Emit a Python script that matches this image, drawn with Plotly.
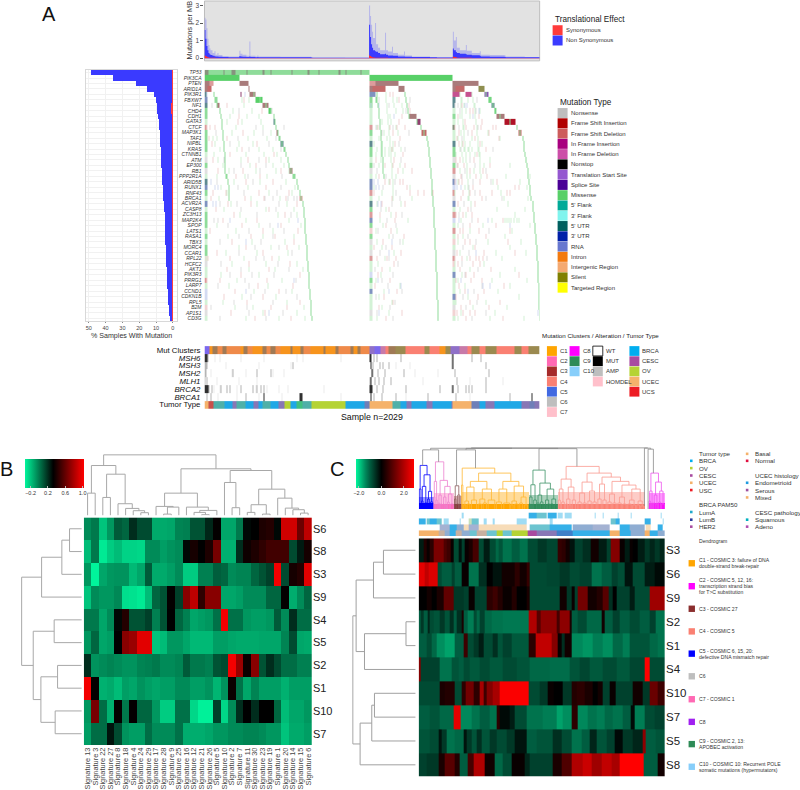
import plotly.graph_objects as go

W, H = 800, 790
FONT = "Liberation Sans"

# ---------- panel A data ----------
GENES = ["TP53", "PIK3CA", "PTEN", "ARID1A", "PIK3R1", "FBXW7", "NF1", "CHD4", "CDH1", "GATA3",
         "CTCF", "MAP3K1", "TAF1", "NIPBL", "KRAS", "CTNNB1", "ATM", "EP300", "RB1", "PPP2R1A",
         "ARID5B", "RUNX1", "RNF43", "BRCA1", "ACVR2A", "CASP8", "ZC3H13", "MAP2K4", "SPOP", "LATS1",
         "RASA1", "TBX3", "MORC4", "CCAR1", "RPL22", "HCFC2", "AKT1", "PIK3R3", "PRRG1", "LARP7",
         "CCND1", "CDKN1B", "RPL5", "B2M", "AP1S1", "CD3G"]
PCT_NONSYN = [48.3, 35.2, 21.8, 14.8, 11.1, 9.5, 8.3, 8.0, 8.1, 7.9, 7.6, 7.4, 7.1, 6.9, 6.8, 6.7, 6.5, 6.4, 6.2, 6.0,
              5.7, 5.5, 5.3, 5.1, 4.9, 4.7, 4.5, 4.4, 4.3, 4.2, 4.1, 4.0, 3.9, 3.7, 3.6, 3.5, 3.3, 3.2, 3.1, 2.9,
              2.7, 2.5, 2.3, 2.1, 1.8, 1.3]
PCT_SYN = [0.5, 0.3, 0.2, 0.2, 0.2, 0.2, 1.2, 1.0, 0.4, 0.3, 0.3, 0.3, 0.3, 0.3, 0.3, 0.3, 0.3, 0.3, 0.3, 0.3,
           0.3, 0.3, 0.3, 0.4, 0.5, 0.3, 0.3, 0.2, 0.2, 0.3, 0.3, 0.3, 0.3, 0.3, 0.3, 0.3, 0.2, 0.2, 0.2, 0.3,
           0.3, 0.2, 0.2, 0.2, 0.2, 0.2]

MB_POS = [204, 205, 206, 207, 208, 209, 210, 212, 214, 215, 217, 218, 222, 228, 239, 240, 242, 246, 249, 250, 255, 257, 258, 280,
          311, 312, 345, 369, 370, 371, 372, 373, 375, 376, 378, 380, 385, 386, 388, 392, 393, 398, 404, 405, 412, 430, 437,
          453, 454, 456, 457, 460, 466, 467, 472, 480, 481, 490, 505, 506, 525, 540]
MB_PEAK = [2.3, 2.2, 1.7, 1.1, 0.75, 0.55, 0.45, 0.3, 0.4, 0.2, 0.3, 0.18, 0.12, 0.1, 0.42, 0.25, 0.2, 0.14, 0.95, 0.14, 0.1, 0.16, 0.09, 0.08,
           0.06, 0.04, 0.03, 3.0, 2.4, 1.9, 1.5, 1.15, 2.0, 0.8, 0.6, 0.45, 1.45, 0.45, 0.38, 0.65, 0.3, 0.2, 0.38, 0.16, 0.1, 0.07, 0.05,
           1.5, 1.0, 1.2, 0.6, 0.45, 0.75, 0.42, 0.3, 0.4, 0.2, 0.18, 0.15, 0.1, 0.07, 0.05]
MB_SOLID = [1.6, 1.1, 0.7, 0.45, 0.3, 0.22, 0.18, 0.14, 0.11, 0.1, 0.09, 0.08, 0.07, 0.06, 0.12, 0.1, 0.08, 0.07, 0.1, 0.07, 0.06, 0.07, 0.06, 0.05,
            0.04, 0.03, 0.03, 1.9, 1.2, 0.8, 0.6, 0.45, 0.4, 0.36, 0.3, 0.22, 0.25, 0.2, 0.16, 0.16, 0.14, 0.1, 0.09, 0.08, 0.07, 0.05, 0.04,
            0.55, 0.45, 0.35, 0.3, 0.25, 0.22, 0.2, 0.17, 0.14, 0.1, 0.08, 0.07, 0.06, 0.05, 0.04]
MB_SYN = [0.15, 0.12, 0.08, 0.05, 0.04, 0.03, 0.02, 0.02, 0.02, 0.01, 0.01, 0.01, 0.01, 0.01, 0.01, 0.01, 0.01, 0.01, 0.01, 0.01, 0.01, 0.01, 0.01, 0.01,
          0.01, 0.01, 0.01, 0.16, 0.12, 0.08, 0.05, 0.04, 0.03, 0.03, 0.02, 0.02, 0.02, 0.02, 0.01, 0.01, 0.01, 0.01, 0.01, 0.01, 0.01, 0.01, 0.01,
          0.1, 0.07, 0.05, 0.03, 0.02, 0.02, 0.02, 0.01, 0.01, 0.01, 0.01, 0.01, 0.01, 0.01, 0.01]

ONCO_COLORS = ["#ffffff", "#58d068", "#86937e", "#a97b7b", "#c46a6a", "#b01226", "#c6528f", "#8a58b0", "#8f8f50",
               "#d3f2d6", "#f2d3d3", "#e0e0e0", "#d3dbf2", "#efcfe2", "#8fdc9a", "#5f8a90", "#7f93c0", "#dc9c9c", "#904070"]
MISS, MOTTLE, BROWN, RUST, DKRED, PINK, PURP, OLIVE = 1, 2, 3, 4, 5, 6, 7, 8
P_GREEN, P_RED, P_GRAY, P_BLUE, P_PINK, M_GREEN, TEAL, M_BLUE, M_RED, D_PINK = 9, 10, 11, 12, 13, 14, 15, 16, 17, 18

# solid blocks of the waterfall: gene, first column, last column, mutation class
BLOCKS = [
    ("TP53", 204, 369, M_GREEN), ("PIK3CA", 204, 239, MISS), ("PIK3CA", 369, 453, MISS),
    ("PTEN", 204, 209, BROWN), ("PTEN", 209, 213.3, M_RED), ("PTEN", 239, 248, BROWN),
    ("PTEN", 369, 375, M_RED), ("PTEN", 375, 384, BROWN), ("PTEN", 384, 398, BROWN),
    ("PTEN", 453, 465, BROWN), ("PTEN", 465, 479, BROWN),
    ("ARID1A", 204, 207, BROWN), ("ARID1A", 207, 211, RUST), ("ARID1A", 248, 249.3, BROWN),
    ("ARID1A", 369, 372, BROWN), ("ARID1A", 372, 385, RUST), ("ARID1A", 398, 404, BROWN),
    ("ARID1A", 453, 456, BROWN), ("ARID1A", 456, 465, RUST), ("ARID1A", 479, 485, OLIVE),
    ("PIK3R1", 204, 206, TEAL), ("PIK3R1", 240.5, 241.5, D_PINK), ("PIK3R1", 249.3, 255, BROWN),
    ("PIK3R1", 369, 375, M_BLUE), ("PIK3R1", 453, 460, PINK), ("PIK3R1", 466, 471.5, PINK),
    ("PIK3R1", 485, 488.5, PURP),
    ("FBXW7", 215, 217.3, M_GREEN), ("FBXW7", 255, 262, MISS), ("FBXW7", 375, 377, M_GREEN), ("FBXW7", 488.5, 492, MISS),
    ("NF1", 217.3, 219.3, BROWN), ("NF1", 262, 268, BROWN), ("NF1", 492, 494.5, TEAL),
    ("CHD4", 268, 272, MISS), ("CHD4", 494.5, 497, MISS),
    ("CDH1", 408.7, 417, BROWN), ("CDH1", 497, 505, BROWN),
    ("GATA3", 417, 420.3, D_PINK), ("GATA3", 505, 516, DKRED),
    ("MAP3K1", 276.5, 278.5, BROWN), ("MAP3K1", 422, 427, RUST), ("MAP3K1", 518.5, 522, RUST),
    ("PPP2R1A", 224.7, 227.3, M_GREEN), ("PPP2R1A", 292.3, 295.7, M_GREEN), ("RB1", 289.7, 292.3, BROWN),
    ("NIPBL", 280.5, 283, TEAL), ("BRCA1", 299.5, 302.3, M_RED),
    ("GATA3", 273.5, 275, TEAL), ("TAF1", 278.5, 280.5, M_GREEN), ("KRAS", 283, 285, M_GREEN),
]
# darker flecks along the TP53 row
TP53_FLECKS = [204, 205, 206, 207, 223, 231, 232, 233, 234, 246, 262, 263, 270, 291, 307, 308, 318, 338, 339, 345, 360]

# start column of each gene (from PIK3R1 down) on the staircases of the waterfall
STAIR_1A = [213.5, 214.5, 216.5, 219.3, 220, 220.6, 221.2, 221.8, 222.4, 222.9, 223.3, 223.6, 223.9, 224.1, 224.4,
            224.6, 227.3, 227.7, 228.1, 228.5]
STAIR_1B = [253, 259, 265, 270, 273, 274.5, 275.5, 277.5, 279, 281, 284, 285.5, 287, 288.5, 290, 293, 296, 297.5, 299, 300,
            302.7, 303.1, 303.5, 303.9, 304.3, 304.7, 305.1, 305.5, 305.9, 306.3, 306.7, 307.1, 307.5, 307.9, 308.3, 308.7, 309.1, 309.5, 309.9, 310.3, 310.7, 311.3]
STAIR_2A = [404.5, 405.5, 406.5, 407.5, 408.7, 417, 420.5, 424, 427, 427.7, 428.3, 429, 429.5, 430, 430.4, 430.8, 431.2, 431.6, 432, 432.5,
            432.9, 433.2, 433.5, 433.8, 434, 434.3, 434.5, 434.8, 435, 435.2, 435.5, 435.7, 436, 436.2, 436.4, 436.6, 436.8, 437, 437.2, 437.4, 437.6, 437.8]
STAIR_2B = [385, 385.5, 386, 386.6, 387, 387.5, 388, 388.7, 389.2, 389.6, 390, 390.4, 390.8, 391.1, 391.4, 391.7, 392, 392.3, 392.6, 392.9]
STAIR_2C = [376, 376.7, 377.3, 378, 378.5, 379, 379.5, 380, 380.5, 381, 381.4, 381.8, 382.1, 382.4, 382.7, 383]
STAIR_3A = [486, 490, 493, 495.5, 500, 510, 517, 520, 522.5, 523.3, 524, 525, 526, 526.7, 527.4, 528, 528.7, 529.5, 530, 531,
            532.5, 533, 533.5, 534, 534.5, 535, 535.5, 536, 536.4, 536.8, 537.1, 537.4, 537.7, 538, 538.2, 538.4, 538.6, 538.8, 539, 539.3, 539.5, 539.8]
STAIR_3B = [460, 460.5, 461, 461.6, 462, 462.5, 463, 463.6, 464, 464.5, 465, 465.4, 465.8, 466.2, 466.6, 467, 467.4, 467.8, 468.2, 468.6]
STAIR_3C = [472, 473, 473.8, 474.4, 475, 475.6, 476.2, 476.8, 477.3, 477.8, 478.3, 478.8, 479.2, 479.6, 480, 480.4]

# colour of the most mutated columns at the start of each group, gene by gene
LEAD_1 = [MOTTLE, MISS, BROWN, BROWN, P_BLUE, M_BLUE, TEAL, M_GREEN, M_GREEN, P_GREEN, M_RED, M_GREEN, M_GREEN, M_GREEN, M_GREEN, P_GREEN,
          P_GRAY, M_GREEN, P_GRAY, P_GREEN, TEAL, M_BLUE, M_GREEN, P_GREEN, M_BLUE, P_GREEN, M_GREEN, M_GREEN, M_GREEN, P_GREEN,
          M_GREEN, P_GREEN, M_GREEN, M_GREEN, P_GREEN, P_GRAY, P_GREEN, P_GREEN, M_RED, P_GREEN, P_BLUE, P_BLUE, P_GREEN, P_RED, P_GRAY, P_GREEN]
LEAD_2 = [0, MISS, BROWN, BROWN, TEAL, M_GREEN, M_GREEN, P_GREEN, P_GREEN, P_GREEN, M_RED, M_GREEN, P_GREEN, TEAL, M_GREEN, M_GREEN,
          P_GREEN, M_GREEN, P_GRAY, P_GREEN, M_BLUE, M_BLUE, M_RED, P_GREEN, TEAL, M_GREEN, M_RED, M_BLUE, M_GREEN, P_RED,
          M_GREEN, P_GRAY, P_GREEN, P_GRAY, M_RED, P_GREEN, P_GREEN, P_BLUE, M_GREEN, P_GREEN, M_BLUE, P_GREEN, P_GREEN, P_GREEN, P_GRAY, P_GREEN]
LEAD_3 = [0, 0, BROWN, BROWN, PINK, TEAL, TEAL, P_GREEN, M_GREEN, P_GREEN, MOTTLE, P_GREEN, P_GREEN, TEAL, M_GREEN, M_GREEN,
          P_GRAY, M_GREEN, M_RED, P_GRAY, M_BLUE, P_BLUE, M_RED, P_GRAY, M_BLUE, P_GREEN, M_RED, P_BLUE, P_GREEN, M_RED,
          P_GREEN, P_RED, P_GREEN, P_GRAY, M_RED, P_RED, P_GREEN, M_BLUE, P_GREEN, P_GREEN, P_GREEN, M_BLUE, P_GREEN, P_GRAY, P_RED, P_GREEN]

# single pale ticks scattered over the matrix
TICKS_GREEN = {
    "FBXW7": [241, 248, 392, 396, 462, 468], "NF1": [243, 393, 401, 464, 475], "CHD4": [232, 251, 395, 402, 466, 480],
    "CDH1": [229, 246, 258, 378, 389, 460, 470], "GATA3": [226, 241, 260, 381, 390, 458, 476], "CTCF": [235, 262, 376, 395, 464],
    "MAP3K1": [231, 253, 270, 383, 397, 461, 488], "TAF1": [212, 216, 247, 266, 378, 386, 458, 472, 500],
    "NIPBL": [214, 238, 252, 373, 380, 392, 462, 470, 482], "KRAS": [219, 236, 258, 272, 376, 380, 384, 388, 392, 400, 460, 464, 468, 469, 472, 478],
    "CTNNB1": [213, 245, 263, 276, 375, 380, 384, 388, 394, 456, 462, 466, 470, 475, 480], "ATM": [217, 240, 268, 280, 380, 390, 463, 490],
    "EP300": [222, 249, 272, 283, 378, 399, 467, 484, 510], "RB1": [228, 255, 275, 288, 382, 402, 460, 474],
    "PPP2R1A": [216, 244, 266, 375, 395, 470, 506, 530], "ARID5B": [233, 259, 285, 388, 458, 493, 520],
    "RUNX1": [220, 247, 294, 373, 410, 465, 498, 527], "RNF43": [226, 268, 291, 381, 455, 501], "BRCA1": [218, 250, 279, 378, 412, 468, 504, 528],
    "ACVR2A": [230, 256, 286, 376, 400, 471, 508], "CASP8": [223, 265, 293, 385, 460, 497, 525], "ZC3H13": [239, 277, 296, 390, 466, 515],
    "MAP2K4": [245, 288, 379, 408, 461, 492, 505, 507, 509, 511, 514, 517, 519], "SPOP": [216, 258, 300, 382, 458, 483, 530],
    "LATS1": [235, 272, 375, 396, 470, 512], "RASA1": [227, 262, 293, 388, 463, 505], "TBX3": [251, 284, 376, 402, 458, 488, 521],
    "MORC4": [238, 270, 298, 381, 473, 510], "CCAR1": [225, 256, 287, 393, 460, 496, 526], "RPL22": [243, 278, 384, 467, 502],
    "HCFC2": [231, 265, 296, 377, 455, 484], "AKT1": [248, 274, 302, 389, 470, 515], "PIK3R3": [220, 258, 380, 462, 500], "PRRG1": [236, 281, 375, 458, 492, 527],
    "LARP7": [228, 267, 399, 465, 510], "CCND1": [253, 291, 383, 460, 498], "CDKN1B": [241, 275, 378, 468, 519], "RPL5": [222, 286, 391, 456, 486],
    "B2M": [234, 252, 303, 381, 473, 507], "AP1S1": [262, 296, 388, 461, 495], "CD3G": [245, 278, 304, 376, 458, 490, 524],
}
TICKS_RED = {
    "PIK3R1": [389, 392], "FBXW7": [243, 398], "NF1": [226, 409, 462], "CHD4": [261, 410, 470, 473], "CDH1": [238, 401, 458, 479],
    "GATA3": [237, 398, 465, 482], "CTCF": [206, 209, 214, 377, 379, 389, 396, 404, 455, 463, 466, 474, 481, 493, 496],
    "MAP3K1": [242, 392, 459, 472, 489], "TAF1": [208, 226, 378, 399, 457, 475, 499], "NIPBL": [211, 256, 394, 406, 459, 463, 480],
    "KRAS": [241, 391, 486], "CTNNB1": [229, 273, 402, 477], "ATM": [212, 247, 265, 375, 393, 456, 460, 466, 474],
    "EP300": [224, 255, 384, 392, 404, 458, 464, 490], "RB1": [217, 242, 280, 397, 412, 470, 483], "PPP2R1A": [235, 259, 378, 395, 461, 476, 487],
    "ARID5B": [245, 272, 384, 389, 399, 402, 455, 459, 462, 480, 497], "RUNX1": [228, 265, 407, 473, 515, 519], "RNF43": [212, 225, 258, 288, 373, 381, 410, 418, 424, 433, 455, 463, 470, 480, 492, 507, 510],
    "BRCA1": [210, 244, 263, 285, 391, 461, 482], "ACVR2A": [227, 250, 296, 381, 404, 458, 475], "CASP8": [215, 268, 388, 468], "ZC3H13": [233, 284, 379, 395, 456, 463, 472],
    "MAP2K4": [222, 256, 394, 478, 503], "SPOP": [241, 280, 385, 470, 496], "LATS1": [209, 262, 297, 375, 390, 460, 463, 479, 510],
    "RASA1": [250, 274, 403, 458, 486], "TBX3": [231, 293, 382, 465, 470, 508], "MORC4": [245, 286, 373, 391, 475], "CCAR1": [216, 262, 400, 457, 484, 515],
    "RPL22": [205, 207, 229, 271, 376, 386, 395, 455, 462, 470, 476, 479, 483], "HCFC2": [248, 289, 393, 458, 473, 480], "AKT1": [226, 268, 381, 460, 491],
    "PIK3R3": [240, 299, 377, 466, 474, 519], "PRRG1": [206, 219, 266, 389, 456, 471, 482], "LARP7": [257, 292, 374, 459, 504], "CCND1": [234, 278, 396, 465, 484],
    "CDKN1B": [223, 262, 383, 456, 478], "RPL5": [246, 299, 392, 470, 500], "B2M": [270, 286, 378, 461, 489], "AP1S1": [230, 264, 401, 457, 463, 470, 475], "CD3G": [254, 290, 385, 466, 503],
}
TICKS_GRAY = {
    "FBXW7": [378, 410, 477], "NF1": [211, 378, 388, 455, 458], "CHD4": [238, 271, 405, 460, 476], "CTCF": [255, 283, 375, 392, 459, 478],
    "MAP3K1": [215, 262, 381, 409, 468], "TAF1": [237, 275, 389, 462], "NIPBL": [229, 268, 398, 480], "KRAS": [248, 280, 404, 461, 493],
    "ATM": [223, 258, 400, 470], "EP300": [240, 265, 373, 457, 475], "RB1": [233, 259, 376, 465, 486], "PPP2R1A": [247, 281, 385, 462],
    "ARID5B": [216, 252, 394, 473, 491], "RUNX1": [237, 280, 382, 469], "RNF43": [243, 276, 395, 475], "BRCA1": [264, 272, 287, 293, 296, 399, 486, 502],
    "ACVR2A": [219, 236, 278, 391, 464], "CASP8": [240, 275, 380, 471], "ZC3H13": [256, 290, 401, 459], "MAP2K4": [213, 217, 229, 386, 472], "SPOP": [227, 269, 395, 463],
    "LATS1": [248, 283, 377, 489], "RASA1": [238, 272, 392, 468], "TBX3": [219, 260, 399, 476], "MORC4": [254, 278, 385, 463], "CCAR1": [238, 291, 379, 469],
    "RPL22": [255, 263, 388, 487], "HCFC2": [220, 277, 397, 462], "AKT1": [240, 288, 374, 478], "PIK3R3": [229, 251, 273, 392, 465], "PRRG1": [244, 295, 381, 471], "LARP7": [217, 248, 387, 482],
    "CCND1": [264, 285, 401, 474], "CDKN1B": [250, 296, 375, 463], "RPL5": [233, 272, 394, 477], "B2M": [210, 246, 389, 466], "AP1S1": [248, 282, 376, 486], "CD3G": [219, 265, 392, 472],
}
TICKS_BLUE = {
    "PIK3R1": [244], "NF1": [370, 378, 465, 467], "CHD4": [378, 479], "CDH1": [393, 473], "RUNX1": [214, 217, 375, 378, 457, 461], "ACVR2A": [212, 215, 377, 380, 458],
    "ARID5B": [210, 373, 377, 456, 458], "MAP2K4": [229, 297, 459, 488, 492], "CCAR1": [388, 476], "PRRG1": [293, 377, 461], "LARP7": [400, 483, 490], "AP1S1": [268, 378, 538], "CCND1": [245, 388, 468],
    "SPOP": [277, 382, 510], "TBX3": [245, 391, 470],
}

# annotation strips under the matrix
STRIP_NAMES = ["Mut Clusters", "<i>MSH6</i>", "<i>MSH3</i>", "<i>MSH2</i>", "<i>MLH1</i>", "<i>BRCA2</i>", "<i>BRCA1</i>", "Tumor Type"]
STRIP_COLORS = ["#ffffff", "#7b68ee", "#f7941d", "#a07a55", "#ef8a4a", "#fa8072", "#9b8a50", "#8f70c8", "#c87aa8",
                "#ececec", "#b4b4b4", "#303030", "#f5b26b", "#c8504a", "#4fb0a8", "#1fa8e6", "#8877b5", "#b5d334", "#40c080", "#6f7fb8"]
MUT_SEGMENTS = [(204, 209, 1), (209, 212, 2), (212, 217, 3), (217, 222, 4), (222, 226, 3), (226, 240, 4), (240, 243, 2), (243, 247, 3),
                (247, 252, 4), (252, 262, 2), (262, 266, 3), (266, 270, 4), (270, 275, 3), (275, 280, 4), (280, 290, 2), (290, 292, 3),
                (292, 300, 2), (300, 303, 3), (303, 310, 4), (310, 323, 2), (323, 325, 3), (325, 335, 2), (335, 338, 3), (338, 350, 4),
                (350, 353, 3), (353, 357, 2), (357, 360, 3), (360, 369, 4), (369, 374, 7), (374, 380, 1), (380, 385, 8), (385, 388, 5),
                (388, 395, 3), (395, 405, 6), (405, 412, 5), (412, 425, 5), (425, 430, 6), (430, 440, 5), (440, 446, 2), (446, 451, 6),
                (451, 460, 7), (460, 468, 8), (468, 472, 5), (472, 480, 6), (480, 486, 5), (486, 497, 6), (497, 515, 5), (515, 522, 6), (522, 529, 5), (529, 540, 6)]
TUMOR_SEGMENTS = [(204, 208, 12), (208, 213, 13), (213, 224, 14), (224, 232, 15), (232, 236, 16), (236, 245, 14), (245, 253, 15), (253, 258, 16),
                  (258, 262, 15), (262, 270, 14), (270, 278, 15), (278, 284, 16), (284, 290, 17), (290, 296, 15), (296, 302, 18), (302, 311, 14),
                  (311, 345, 17), (345, 364, 15), (364, 369, 19), (369, 392, 12), (392, 400, 14), (400, 406, 15), (406, 412, 16), (412, 427, 15),
                  (427, 433, 16), (433, 452, 15), (452, 453, 16), (453, 472, 12), (472, 480, 19), (480, 486, 15), (486, 495, 16), (495, 522, 15), (522, 530, 16), (530, 535, 19), (535, 540, 16)]
# gene-level alterations: light, mid and black ticks
ALT_LIGHT = {"MSH6": [214, 219, 240, 263, 296, 302, 340], "MSH3": [225, 258, 290, 395, 410], "MSH2": [210, 231, 245, 272, 283, 415, 438],
             "MLH1": [216, 238, 256, 390, 423, 470, 503], "BRCA2": [213, 219, 236, 255, 266, 278, 287, 323], "BRCA1": [217, 236, 258, 281, 340, 405, 470]}
ALT_MID = {"MSH6": [204, 205, 206, 207, 373, 376, 400, 452, 472, 481], "MSH3": [204, 205, 206, 292, 372, 379, 382, 388, 452, 486], "MSH2": [204, 205, 232, 256, 270, 372, 377, 384, 403, 455, 489],
           "MLH1": [204, 206, 369, 374, 378, 383, 390, 457, 486], "BRCA2": [208, 211, 220, 226, 229, 240, 252, 256, 260, 263, 376, 382, 405, 440, 452, 458, 466, 469, 472, 486],
           "BRCA1": [206, 210, 245, 263, 373, 381, 395, 428, 456, 510]}
ALT_BLACK = {"MSH6": [204, 205, 206, 369, 370, 453], "MSH3": [370, 453], "MSH2": [371], "MLH1": [370], "BRCA2": [204, 205, 206, 207, 369, 370, 371, 453], "BRCA1": [263, 299, 300, 301, 370, 532]}

# ---------- panel B data ----------
SIGNATURES = ["Signature 13", "Signature 3", "Signature 22", "Signature 27", "Signature 8", "Signature 18", "Signature 4", "Signature 24",
              "Signature 29", "Signature 17", "Signature 28", "Signature 9", "Signature 25", "Signature 16", "Signature 12", "Signature 21",
              "Signature 26", "Signature 5", "Signature 10", "Signature 2", "Signature 7", "Signature 11", "Signature 30", "Signature 23",
              "Signature 19", "Signature 1", "Signature 20", "Signature 14", "Signature 15", "Signature 6"]
ROWS_B = ["S6", "S8", "S3", "S9", "S4", "S5", "S2", "S1", "S10", "S7"]
S6_B = [-.05, .0, -.2, -.08, .08, .05, .2, .12, .12, -.13, -.13, -.12, -.03, -.02, .1, .1, .22, .33, -.12, -.12, -.0, .3, .32, .4, .42, .3, .9, .9, .62, .85]
S8_B = [-.18, .0, -.3, -.22, -.18, -.24, -.24, -.25, -.05, -.05, -.1, -.07, -.05, .3, .38, .32, .4, .65, -.15, -.15, .2, .36, .4, .45, .5, .5, .5, .12, .25, .38]
S3_B = [-.08, -.33, -.12, -.08, -.07, -.07, -.17, -.12, .08, -.13, -.13, -.1, -.05, -.22, -.22, -.02, -.02, .07, .05, -.05, -.03, -.03, .05, .1, .15, 1.0, .12, .38, .42, .95]
S9_B = [-.2, -.05, -.08, -.08, -.04, -.27, -.28, -.3, -.18, .05, .1, .33, .15, .7, .85, .45, .7, .7, -.12, -.12, -.1, -.05, -.05, -.05, .05, .05, .33, -.14, -.05, .05]
S4_B = [.0, .0, -.12, -.05, .3, .42, .1, .1, .15, -.02, .1, .32, .05, -.02, -.12, -.1, -.08, .02, 1.0, .02, .02, -.08, -.1, -.1, -.08, .08, -.05, .2, .03, .03]
S5_B = [-.08, .05, -.12, -.1, .32, .7, .75, .95, .95, -.2, -.18, -.08, -.08, -.12, -.17, -.17, -.17, -.1, -.1, -.12, -.13, -.13, -.13, -.12, -.12, -.12, -.03, .12, -.12, -.13]
S2_B = [.2, -.07, -.05, -.03, -.05, -.07, -.07, -.03, -.02, .0, -.05, -.05, -.03, .08, .0, .0, -.02, .1, .12, 1.0, .75, .35, .7, .1, .2, .12, .03, .03, -.02, -.02]
S1_B = [1.0, .33, -.15, -.13, -.18, -.1, -.12, -.07, -.1, -.12, -.1, -.1, -.05, -.05, -.1, -.1, -.07, -.16, -.07, .35, .02, -.12, -.03, -.1, -.1, -.1, -.15, -.1, -.1, -.1]
S10_B = [-.08, .65, .03, -.15, .33, .0, .33, .05, .05, -.08, -.22, -.22, .02, .02, -.25, -.32, -.32, .15, -.25, -.05, .2, .32, .2, .32, .32, .05, -.18, -.12, -.12, -.08]
S7_B = [-.1, .03, .03, .27, .12, -.07, -.1, -.1, .03, -.05, -.05, -.05, .02, -.14, -.14, -.14, -.12, -.08, -.08, -.05, -.05, -.03, -.03, -.05, -.08, -.08, -.2, -.13, -.13, -.1]

# dendrograms: (height, left, right); a bare number is a leaf position, a pair is (position, height)
DEND_B_TOP = (60.7,
              (50, (22.3, 0, 1), (41.3, (18, 2, 3), (11.7, 4, (7, 5, (4.7, 6, (2.7, 7, 8)))))),
              (46.7,
               (22.3, (9, 9, (8.3, (1.3, 10, 11), 12)), (8.3, 13, (5, (3, 14, (0.7, 15, 16)), 17))),
               (45, (33, 18, (7.7, 19, 20)),
                (26.3, (10.7, (3, 21, 22), (1.3, 23, 24)), (17.3, 25, (7.3, 26, (5.7, 27, (2.3, 28, 29))))))))
DEND_B_LEFT = (60.3, (40.3, (20, (12.3, 0, 1), 2), 3), (48.7, (27.7, 4, 5), (41, (24.3, 6, 7), (26.7, 8, 9))))

# ---------- panel C data ----------
ROWS_C = ["S3", "S6", "S9", "S2", "S1", "S4", "S10", "S7", "S5", "S8"]
# each row: (column where the run ends, value); runs start at column 266
S3_C = [(280, -.3), (290, .4), (300, .1), (312, .5), (340, 1.4), (350, .9), (362, .7), (372, .1), (385, -.8), (395, -.2), (405, -.7), (416, .1), (428, .3), (445, .8),
        (462, -.8), (480, -.3), (497, -.8), (508, -1.1), (520, -.9), (545, -1.2), (570, -1.0), (595, -1.2), (625, -.8), (650, -.6), (683, -.75), (695, .6), (708, .5), (720, .2), (735, -.2),
        (760, -.7), (782, -.5), (808, .2), (830, -.3), (842, -.7), (872, 1.5), (885, .1), (900, -.3), (910, .1), (925, .0), (945, -.3), (960, -.6), (975, -.4), (990, -.6), (1007, -.4)]
S6_C = [(285, 2.6), (296, 2.2), (322, 2.5), (335, -.8), (365, -1.0), (375, -.7), (395, -1.), (415, .1), (445, -1.2), (470, -.5), (490, .0), (515, -.2), (555, .2), (570, .5),
        (590, .2), (600, .6), (650, -.8), (690, -.75), (720, -.6), (750, -.8), (785, -.7), (815, -1.2), (845, -1.0), (865, -.7), (885, -.85), (910, -.2), (945, -.8), (975, -.3), (1007, -.1)]
S9_C = [(290, .0), (305, .2), (320, .0), (340, .3), (372, 1.1), (400, -.6), (415, -.7), (435, .1), (470, -.7), (490, .5), (505, .7), (520, .4), (545, .1), (560, .4), (590, .0), (600, .3),
        (690, -.8), (710, .2), (725, -.6), (735, .1), (745, -.7), (775, 1.3), (800, .2), (818, .4), (838, 1.0), (850, -.5), (862, .0), (900, -.7), (915, -.3), (960, -.8), (1005, 1.8), (1007, -.8)]
S2_C = [(272, -1.0), (280, -.6), (292, -1.0), (298, -.4), (310, -.8), (330, -.9), (345, -.6), (360, -.9), (370, -.5), (380, -1.0), (395, -.5), (400, .3), (412, -1.0), (430, -1.3), (440, -.8), (450, -1.1), (465, -.7), (485, -1.1), (520, -1.2), (597, -1.25), (620, 2.0),
        (632, 1.0), (680, 1.6), (690, .8), (720, 1.6), (725, .3), (745, -1.0), (770, -.8), (815, -1.1), (825, .2), (850, -1.0), (870, -.7), (900, -1.0), (930, -.8), (960, -1.0), (980, -.7), (1007, -1.2)]
S1_C = [(290, -1.0), (305, -.8), (320, -1.1), (345, -1.45), (375, -1.6), (400, -1.0), (412, .7), (430, -.8), (445, -.6), (460, -.3), (490, -.8), (505, -.5), (520, -.9), (545, -.7), (597, -.95), (617, .5), (665, 2.2), (683, 1.5), (695, .1),
        (705, -.5), (725, .2), (760, -1.4), (790, -1.5), (820, -1.3), (850, -1.45), (880, -1.1), (900, -1.3), (960, -.9), (985, -1.1), (1007, -1.2)]
S4_C = [(272, 1.5), (330, -.7), (365, -1.2), (385, -.9), (400, -1.), (420, -.8), (450, -.95), (480, -.8), (520, -.95), (560, -.8), (600, -.9), (660, -1.1), (720, -1.15), (750, -.9), (780, -.75), (820, -.95), (860, -.8), (900, -.95), (945, -.75), (960, 2.9), (1007, -.8)]
S10_C = [(328, -.8), (345, .3), (375, .4), (395, -.8), (408, .5), (432, 1.3), (448, .5), (462, 1.9), (472, .7), (490, 1.5), (510, 1.9), (597, 2.85), (630, -.8), (655, -.6), (672, .1), (685, .0),
         (700, .0), (725, -.6), (742, .4), (765, .5), (790, .3), (805, .0), (818, .2), (840, -.7), (858, .1), (910, -.7), (940, .2), (962, -.6), (985, 1.2), (1007, .7)]
S7_C = [(300, -1.0), (330, -.9), (372, -1.1), (393, 2.6), (425, -1.4), (450, -1.2), (480, -1.0), (500, -1.2), (510, .5), (540, -.1), (555, -.3), (590, -.8), (640, -1.2), (680, -1.3), (700, -1.6), (725, -1.45), (745, .5),
        (775, -1.4), (800, -1.2), (825, -1.3), (850, -1.1), (880, -1.2), (905, -1.0), (915, -.1), (945, -1.3), (975, -.8), (1007, -.7)]
S5_C = [(300, -.9), (325, -.8), (335, -.2), (350, -.6), (375, -1.2), (400, -1.1), (410, -.2), (425, -.6), (440, -.9), (455, -.5), (480, -.9), (500, -.6), (530, -.8), (555, -.6), (590, -.2), (620, -1.0), (670, -.9), (695, -.5), (725, -.8), (755, -1.2), (780, -1.0), (800, -.4), (830, -.9), (855, -.7), (880, -.1),
        (910, -.6), (940, -.4), (948, 1.6), (980, -1.0), (1007, -.9)]
S8_C = [(290, -.7), (325, -.6), (345, .3), (375, 1.0), (390, .4), (412, -1.), (430, .8), (465, 2.0), (495, .2), (520, -1.1), (545, -.8), (585, .1), (600, -.4), (670, -.7), (695, .3),
        (725, .9), (760, 2.0), (785, 2.3), (815, 1.8), (845, 2.2), (870, 1.9), (942, 2.9), (985, -1.), (1007, .2)]

CLUSTER_NAMES = ["C5", "C7", "C3", "C1", "C9", "C4", "C6", "C2"]
CLUSTER_COLORS = ["#0000ff", "#ff69b4", "#8b2e2e", "#ffa500", "#2e8b57", "#fa8072", "#bebebe", "#ff00ff"]
CLUSTER_FROM = [266, 310, 372, 394, 597, 684, 945, 958]
CLUSTER_TO = [310, 372, 394, 597, 684, 945, 948, 1007]
BASE_SOLID = [6, 5, 5, 5, 5, 5, 0, 6]
BASE_FAN = [6, 11, 8, 12, 9, 12, 0, 10]

DEND_C5 = (43.7, (20, 268, 273), (34.3, (22.7, (8, 275, 279), (6, 284, 291)), (17.7, (10, 293, 298), (7, 301, 309))))
DEND_C7 = (47.3, (27.7, (12, 311, 315), (9, 318, 322)),
           (28.7, (14, (6, 325, 329), (5, 332, 336)), (22.7, (12, (5, 339, 343), (4, 346, 350)), (15, (7, 353, 358), (5, 362, 370)))))
DEND_C3 = (23.3, (10, 374, 378), (14, (5, 381, 386), (4, 388, 392)))
DEND_C1 = (41, (24, 395, 399),
           (36, (27.7, (22, (8, (4, 402, 408), (5, 412, 420)), (9, 425, 440)), (20, (10, (5, 445, 455), (6, 460, 470)), (9, 475, 495))),
            (27.7, (20, (7, 500, 515), (6, 522, 540)), (23, (8, (4, 543, 550), (5, 555, 565)), (12, (6, 570, 578), (4, 584, 594))))))
DEND_C9 = (39, (24.3, (12, (5, 598, 602), (4, 605, 609)), (9, 612, 620)),
           (26, (14, (6, 622, 628), (7, 632, 640)), (20, (9, (4, 645, 650), (5, 654, 660)), (10, (5, 663, 670), (4, 674, 682)))))
DEND_C4 = (42.7, (30, (20, (9, 686, 692), (7, 696, 704)), (22, (10, (5, 708, 714), (4, 718, 724)), (9, 728, 738))),
           (36, (27, (16, (7, 745, 755), (6, 760, 770)), (18, (8, 775, 785), (7, 790, 800))),
            (32, (25, (10, 805, 815), (9, 820, 830)),
             (27.7, (15, (7, 835, 845), (6, 850, 860)),
              (24, (12, (6, 865, 875), (5, 880, 890)), (20, (9, (5, 895, 905), (4, 910, 918)), (8, (4, 922, 930), (3, 934, 943))))))))
DEND_C2 = (36, (18, (8, 959, 963), (6, 966, 970)), (27, (14, (6, 972, 977), (5, 980, 985)), (18, (7, 988, 994), (5, 997, 1005))))
CLUSTER_TREES = [DEND_C5, DEND_C7, DEND_C3, DEND_C1, DEND_C9, DEND_C4, DEND_C2]
TREE_COLORS = ["#0000ff", "#ee82d0", "#8b5a5a", "#ffb733", "#3f9468", "#fa9a90", "#ee55ee"]
DEND_C_LINK = (61.3,
               (60.9, (59.3, (278, 43.7), (326, 47.3)), (60.8, (59.3, (380, 23.3), (437, 41)), (60.5, (628, 39), (742, 42.7)))),
               (61, (945, 3), (60, (956, 0), (972, 36))))
DEND_C_LEFT = (63, (59.7, (42.3, (32.3, 0, 1), 2), (51.3, (9.7, 3, 4), 5)), (55.7, (44, (41.3, 6, 7), 8), 9))

TRACK_COLORS = ["#ffffff", "#9fdcf4", "#35b0e8", "#6cc4d0", "#c8dfb8", "#f7dcb8", "#a4b2d2", "#8fadd2", "#f5b26b", "#b5d334", "#8877b5", "#a84ba0", "#3f7fc8", "#c8b0a0"]
TRACK_1 = [(290, 291, 1), (325, 326, 1), (340, 341, 1), (352, 354, 1), (395, 402, 1), (598, 620, 2), (622, 650, 3), (655, 680, 2), (685, 700, 1), (705, 725, 1), (795, 797, 1), (820, 822, 1), (865, 867, 1), (905, 906, 1), (995, 997, 1)]
TRACK_2 = [(266, 288, 2), (290, 298, 3), (298, 320, 2), (320, 335, 3), (340, 355, 1), (390, 393, 1), (415, 425, 4), (425, 445, 3), (460, 470, 1), (490, 495, 1), (560, 590, 1), (660, 670, 1), (843, 857, 3), (857, 870, 2), (945, 965, 2), (975, 977, 4), (1000, 1002, 1)]
TRACK_3 = [(330, 360, 6), (360, 380, 2), (380, 400, 7), (400, 415, 5), (415, 445, 6), (445, 470, 5), (470, 520, 5), (520, 590, 5), (600, 660, 3), (660, 725, 2), (730, 790, 7), (790, 840, 6), (870, 900, 2), (900, 945, 7), (950, 965, 5), (985, 1000, 2)]
TRACK_4 = [(266, 325, 8), (325, 345, 13), (345, 360, 7), (360, 378, 2), (378, 395, 13), (395, 420, 7), (420, 440, 3), (440, 470, 13), (470, 500, 3), (500, 520, 9), (520, 545, 3), (545, 595, 9), (595, 620, 11), (620, 680, 10), (680, 730, 12), (730, 840, 2), (840, 870, 8), (870, 905, 2), (905, 945, 7), (945, 960, 8), (960, 985, 2), (985, 1007, 7)]

# ---------- legends ----------
TRANSLATION_LEGEND = [("Synonymous", "#ff3b3b"), ("Non Synonymous", "#3b3bff")]
MUTATION_LEGEND = [("Nonsense", "#bebebe"), ("Frame Shift Insertion", "#b00000"), ("Frame Shift Deletion", "#cd5c5c"), ("In Frame Insertion", "#a8007f"),
                   ("In Frame Deletion", "#cc4fa8"), ("Nonstop", "#000000"), ("Translation Start Site", "#9457d0"), ("Splice Site", "#4b0096"),
                   ("Missense", "#58d068"), ("5' Flank", "#00aa99"), ("3' Flank", "#80f4ee"), ("5' UTR", "#006060"), ("3' UTR", "#0020a8"), ("RNA", "#6777cf"),
                   ("Intron", "#f37a0f"), ("Intergenic Region", "#f4a971"), ("Silent", "#808000"), ("Targeted Region", "#ffff00")]
CLUSTERS_1 = [("C1", "#ffa500"), ("C2", "#ff69b4"), ("C3", "#a52a2a"), ("C4", "#fa8072"), ("C5", "#4169e1"), ("C6", "#bebebe"), ("C7", "#ffc0cb")]
CLUSTERS_2 = [("C8", "#ff00ff"), ("C9", "#2e8b57"), ("C10", "#87cefa")]
ALTERATIONS = [("WT", "#ffffff"), ("MUT", "#000000"), ("AMP", "#bebebe"), ("HOMDEL", "#ffc0cb")]
TUMORS = [("BRCA", "#00aeef"), ("CESC", "#a84ba0"), ("OV", "#b5d334"), ("UCEC", "#f5b26b"), ("UCS", "#ed1c24")]
DENDRO_LEGEND = [(["C1 - COSMIC 3: failure of DNA", "double-strand break-repair"], "#ffa500"),
                 (["C2 - COSMIC 5, 12, 16:", "transcription strand bias", "for T&gt;C substitution"], "#ff00ff"),
                 (["C3 - COSMIC 27"], "#8b2e2e"), (["C4 - COSMIC 5"], "#fa8072"),
                 (["C5 - COSMIC 6, 15, 20:", "defective DNA mismatch repair"], "#0000ff"),
                 (["C6"], "#bebebe"), (["C7 - COSMIC 1"], "#ff69b4"), (["C8"], "#a020f0"),
                 (["C9 - COSMIC 2, 13:", "APOBEC activation"], "#2e8b57"),
                 (["C10 - COSMIC 10: Recurrent POLE", "somatic mutations (hypermutators)"], "#87cefa")]
DENDRO_LEGEND_Y = [563.7, 586.7, 609.3, 632, 654.3, 677, 700, 722.7, 745, 767.7]


def box(x0, y0, x1, y1):
    return dict(domain=[x0 / W, x1 / W]), dict(domain=[1 - y1 / H, 1 - y0 / H])


def tree_paths(tree):
    xs, hs = [], []

    def walk(node):
        if isinstance(node, (int, float)):
            return node, 0
        if len(node) == 2:
            return node
        h, left, right = node
        xa, ha = walk(left)
        xb, hb = walk(right)
        xs.extend([xa, xa, xb, xb, None])
        hs.extend([ha, h, h, hb, None])
        return (xa + xb) / 2, h

    walk(tree)
    return xs, hs


def paint_rows(rows, first, last):
    # rows of (from, to, class) painted in order onto one grid with uneven column edges
    edges = sorted({first, last} | {e for row in rows for s in row for e in s[:2]})
    z = []
    for row in rows:
        line = [0] * (len(edges) - 1)
        for a, b, cat in row:
            for i in range(edges.index(a), edges.index(b)):
                line[i] = cat
        z.append(line)
    return edges, z


def stepped(colors):
    n = len(colors)
    scale = []
    for i, c in enumerate(colors):
        scale += [[i / n, c], [(i + 1) / n, c]]
    return scale


fig = go.Figure()
layout = {}
annotations = []
shapes = []


def note(x, y, text, size, anchor="left", color="#222222", angle=0, ya="middle"):
    annotations.append(dict(x=x / W, y=1 - y / H, xref="paper", yref="paper", text=text, showarrow=False,
                            xanchor=anchor, yanchor=ya, textangle=angle, align=anchor,
                            font=dict(size=size, color=color, family=FONT)))


def swatch(x, y, w, h, color, line=None):
    shapes.append(dict(type="rect", xref="paper", yref="paper", x0=x / W, x1=(x + w) / W, y0=1 - y / H, y1=1 - (y + h) / H,
                       fillcolor=color, line=dict(width=0.8 if line else 0, color=line or color)))


def hidden(**kw):
    return dict(visible=False, fixedrange=True, **kw)


# top bar panel
xd, yd = box(204, 0, 540, 60)
layout["xaxis"] = dict(xd, anchor="y", range=[204, 540], showticklabels=False, ticks="", showgrid=False, zeroline=False, showline=False)
layout["yaxis"] = dict(yd, anchor="x", range=[-0.15, 3.25], tickvals=[0, 1, 2, 3], ticks="outside", ticklen=3, tickcolor="#555",
                       tickfont=dict(size=6.5, color="#444", family=FONT), showgrid=False, zeroline=False, showline=False)
shapes.append(dict(type="rect", xref="x domain", yref="y domain", x0=0, x1=1, y0=0, y1=1, fillcolor="#e2e2e2",
                   line=dict(color="#bdbdbd", width=1), layer="below"))
for vals, col in [(MB_PEAK, "rgba(70,70,255,0.28)"), (MB_SOLID, "#3a3aff"), (MB_SYN, "#ff3030")]:
    fig.add_trace(go.Scatter(x=MB_POS, y=vals, mode="lines", line=dict(width=0, shape="hv"), fill="tozeroy", fillcolor=col,
                             xaxis="x", yaxis="y", hoverinfo="skip", showlegend=False))
note(189, 29, "Mutations per MB", 7.5, anchor="center", angle=-90, color="#333")

# left percentage bars
xd, yd = box(85.5, 69, 176, 321)
layout["xaxis2"] = dict(xd, anchor="y2", range=[51.5, -2.2], tickvals=[50, 40, 30, 20, 10, 0], ticks="outside", ticklen=1, tickcolor="#888",
                        tickfont=dict(size=5.5, color="#444", family=FONT), showgrid=True, gridcolor="#f1f1f1", zeroline=False,
                        showline=True, mirror=True, linecolor="#d8d8d8")
layout["yaxis2"] = dict(yd, anchor="x2", range=[45.5, -0.5], tickvals=list(range(46)), showticklabels=False, ticks="", showgrid=True,
                        gridcolor="#f1f1f1", zeroline=False, showline=True, mirror=True, linecolor="#d8d8d8")
rows_i = list(range(len(GENES)))
fig.add_trace(go.Bar(y=rows_i, x=PCT_SYN, orientation="h", marker=dict(color="#ff4040", line=dict(width=0)), xaxis="x2", yaxis="y2", hoverinfo="skip", showlegend=False))
fig.add_trace(go.Bar(y=rows_i, x=PCT_NONSYN, orientation="h", marker=dict(color="#3a3aff", line=dict(width=0)), xaxis="x2", yaxis="y2", hoverinfo="skip", showlegend=False))
note(131, 335.5, "% Samples With Mutation", 7.1, anchor="center", color="#333")

# mutation matrix
rows = [[] for _ in GENES]
for i, (a, b, c) in enumerate(zip(LEAD_1, LEAD_2, LEAD_3)):
    rows[i].extend([(204, 207, a), (369, 372, b), (453, 456, c)])
for gene, a, b, cat in BLOCKS:
    rows[GENES.index(gene)].append((a, b, cat))
rows[0].extend((x, x + 1, MOTTLE) for x in TP53_FLECKS)
for table, cat in [(TICKS_GRAY, P_GRAY), (TICKS_BLUE, P_BLUE), (TICKS_RED, P_RED), (TICKS_GREEN, P_GREEN)]:
    for gene, xs in table.items():
        rows[GENES.index(gene)].extend((x, x + 1, cat) for x in xs)
for stair, cat in [(STAIR_1A, M_GREEN), (STAIR_1B, M_GREEN), (STAIR_2A, M_GREEN), (STAIR_2B, P_GREEN), (STAIR_2C, M_GREEN),
                   (STAIR_3A, M_GREEN), (STAIR_3B, P_GREEN), (STAIR_3C, P_GREEN)]:
    for i, x in enumerate(stair):
        rows[i + 4].append((x, x + 1, cat))
edges, z = paint_rows(rows, 204, 540)
xd, yd = box(204, 69, 540, 321)
layout["xaxis3"] = hidden(**xd, anchor="y3", range=[204, 540])
layout["yaxis3"] = dict(yd, anchor="x3", range=[45.5, -0.5], tickvals=rows_i, ticktext=["<i>%s</i>" % g for g in GENES], ticks="outside", ticklen=1, tickcolor="rgba(0,0,0,0)", showgrid=False, zeroline=False,
                        tickfont=dict(size=5, color="#333", family=FONT), showline=False)
fig.add_trace(go.Heatmap(z=z, x=edges, y=rows_i, colorscale=stepped(ONCO_COLORS), zmin=-0.5, zmax=len(ONCO_COLORS) - 0.5, showscale=False,
                         xaxis="x3", yaxis="y3", hoverinfo="skip"))

# strips
strip_rows = [MUT_SEGMENTS]
for gene in ["MSH6", "MSH3", "MSH2", "MLH1", "BRCA2", "BRCA1"]:
    row = [(x, x + 1, 9) for x in ALT_LIGHT[gene]] + [(x, x + 1, 10) for x in ALT_MID[gene]] + [(x, x + 1, 11) for x in ALT_BLACK[gene]]
    strip_rows.append(row)
strip_rows.append(TUMOR_SEGMENTS)
edges, z = paint_rows(strip_rows, 204, 540)
xd, yd = box(204, 346, 540, 408.7)
layout["xaxis4"] = hidden(**xd, anchor="y4", range=[204, 540])
layout["yaxis4"] = dict(yd, anchor="x4", range=[7.5, -0.5], tickvals=list(range(8)), ticktext=STRIP_NAMES, ticks="outside", ticklen=1.5, tickcolor="rgba(0,0,0,0)", showgrid=False, zeroline=False,
                        tickfont=dict(size=7.8, color="#111", family=FONT), showline=False)
fig.add_trace(go.Heatmap(z=z, x=edges, y=list(range(8)), colorscale=stepped(STRIP_COLORS), zmin=-0.5, zmax=len(STRIP_COLORS) - 0.5, showscale=False,
                         xaxis="x4", yaxis="y4", hoverinfo="skip"))
note(372, 416.7, "Sample n=2029", 8.8, anchor="center", color="#111")

# legends of panel A
note(553, 19, "Translational Effect", 8.2, color="#222")
for i, (name, col) in enumerate(TRANSLATION_LEGEND):
    swatch(553, 24.3 + 10.3 * i, 10, 10, col)
    note(564.5, 29.3 + 10.3 * i, name, 6, color="#333")
note(558, 101.7, "Mutation Type", 8.2, color="#222")
for i, (name, col) in enumerate(MUTATION_LEGEND):
    swatch(558, 107.3 + 10.3 * i, 10, 10, col)
    note(569.7, 112.3 + 10.3 * i, name, 6, color="#333")
note(540, 335, "Mutation Clusters / Alteration / Tumor Type", 6.2, color="#222")
for items, xs, xt in [(CLUSTERS_1, 547.3, 558), (CLUSTERS_2, 570, 581.7), (ALTERATIONS, 593.3, 604.7), (TUMORS, 630, 641)]:
    for i, (name, col) in enumerate(items):
        swatch(xs, 346 + 10.2 * i, 10, 9.8, col, line="#000000" if name == "WT" else None)
        note(xt, 351 + 10.2 * i, name, 6, color="#333")

# panel B heatmap
B_MATRIX = [S6_B, S8_B, S3_B, S9_B, S4_B, S5_B, S2_B, S1_B, S10_B, S7_B]
xd, yd = box(83, 517.7, 311.7, 746)
layout["xaxis5"] = dict(xd, anchor="y5", range=[-0.5, 29.5], tickvals=list(range(30)), ticktext=SIGNATURES, tickangle=-90, ticks="", showgrid=False, zeroline=False,
                        tickfont=dict(size=7.4, color="#444", family=FONT), showline=False)
layout["yaxis5"] = dict(yd, anchor="x5", side="right", range=[9.5, -0.5], tickvals=list(range(10)), ticktext=ROWS_B, ticks="", showgrid=False, zeroline=False,
                        tickfont=dict(size=11, color="#222", family=FONT), showline=False)
fig.add_trace(go.Heatmap(z=B_MATRIX, colorscale=[[0, "#00f59b"], [0.478, "#000000"], [1, "#ff0000"]], zmin=-0.33, zmax=1.03,
                         xaxis="x5", yaxis="y5", hoverinfo="skip",
                         colorbar=dict(orientation="h", x=24 / W, xanchor="left", y=1 - 459 / H, yanchor="top", lenmode="pixels", len=59, thickness=29,
                                       outlinewidth=0, xpad=0, ypad=0, tickvals=[-0.2, 0.2, 0.6, 1.0], tickformat=".1f", ticks="inside", ticklen=2, tickcolor="#bbb",
                                       tickfont=dict(size=5.5, color="#333", family=FONT))))
# panel B dendrograms
xd, yd = box(83, 453.7, 311.7, 515.7)
layout["xaxis6"] = hidden(**xd, anchor="y6", range=[-0.5, 29.5])
layout["yaxis6"] = hidden(**yd, anchor="x6", range=[0, 62])
xs, hs = tree_paths(DEND_B_TOP)
fig.add_trace(go.Scatter(x=xs, y=hs, mode="lines", line=dict(color="#a8a8a8", width=1), xaxis="x6", yaxis="y6", hoverinfo="skip", showlegend=False))
xd, yd = box(19, 517.7, 81, 746)
layout["xaxis7"] = hidden(**xd, anchor="y7", range=[62, 0])
layout["yaxis7"] = hidden(**yd, anchor="x7", range=[9.5, -0.5])
xs, hs = tree_paths(DEND_B_LEFT)
fig.add_trace(go.Scatter(x=hs, y=xs, mode="lines", line=dict(color="#a8a8a8", width=1), xaxis="x7", yaxis="y7", hoverinfo="skip", showlegend=False))

# panel C heatmap
C_RUNS = [S3_C, S6_C, S9_C, S2_C, S1_C, S4_C, S10_C, S7_C, S5_C, S8_C]
c_edges = sorted({266} | {end for row in C_RUNS for end, _ in row})
c_z = []
for row in C_RUNS:
    line = []
    k = 0
    for right in c_edges[1:]:
        while row[k][0] < right:
            k += 1
        line.append(row[k][1])
    c_z.append(line)
xd, yd = box(418.7, 538.7, 665.7, 777.7)
layout["xaxis8"] = hidden(**xd, anchor="y8", range=[266, 1007])
layout["yaxis8"] = dict(yd, anchor="x8", side="right", range=[9.5, -0.5], tickvals=list(range(10)), ticktext=ROWS_C, ticks="", showgrid=False, zeroline=False,
                        tickfont=dict(size=11.5, color="#222", family=FONT), showline=False)
fig.add_trace(go.Heatmap(z=c_z, x=c_edges, colorscale=[[0, "#00f59b"], [0.16, "#008a5c"], [0.24, "#005e40"], [0.436, "#000000"], [1, "#ff0000"]], zmin=-2.24, zmax=2.9,
                         xaxis="x8", yaxis="y8", hoverinfo="skip",
                         colorbar=dict(orientation="h", x=356 / W, xanchor="left", y=1 - 459 / H, yanchor="top", lenmode="pixels", len=58.3, thickness=29,
                                       outlinewidth=0, xpad=0, ypad=0, tickvals=[-2, 0, 2], tickformat=".1f", ticks="inside", ticklen=2, tickcolor="#bbb",
                                       tickfont=dict(size=5.5, color="#333", family=FONT))))
# panel C tracks
edges, z = paint_rows([TRACK_1, TRACK_2, TRACK_3, TRACK_4], 266, 1007)
xd, yd = box(418.7, 512.7, 665.7, 536.3)
layout["xaxis9"] = hidden(**xd, anchor="y9", range=[266, 1007])
layout["yaxis9"] = hidden(**yd, anchor="x9", range=[3.5, -0.5])
fig.add_trace(go.Heatmap(z=z, x=edges, y=[0, 1, 2, 3], colorscale=stepped(TRACK_COLORS), zmin=-0.5, zmax=len(TRACK_COLORS) - 0.5, showscale=False,
                         xaxis="x9", yaxis="y9", hoverinfo="skip"))
# panel C dendrograms
xd, yd = box(418.7, 446.7, 665.7, 509.3)
layout["xaxis10"] = hidden(**xd, anchor="y10", range=[266, 1007])
layout["yaxis10"] = hidden(**yd, anchor="x10", range=[0, 62.6])
widths = [b - a for a, b in zip(CLUSTER_FROM, CLUSTER_TO)]
centers = [(a + b) / 2 for a, b in zip(CLUSTER_FROM, CLUSTER_TO)]
fig.add_trace(go.Bar(x=centers, y=BASE_SOLID, width=widths, marker=dict(color=CLUSTER_COLORS, line=dict(width=0)), xaxis="x10", yaxis="y10", hoverinfo="skip", showlegend=False))
fig.add_trace(go.Bar(x=centers, y=BASE_FAN, width=widths, marker=dict(color=CLUSTER_COLORS, opacity=0.4, line=dict(width=0)), xaxis="x10", yaxis="y10", hoverinfo="skip", showlegend=False))
for tree, col in zip(CLUSTER_TREES, TREE_COLORS):
    xs, hs = tree_paths(tree)
    fig.add_trace(go.Scatter(x=xs, y=hs, mode="lines", line=dict(color=col, width=0.8), xaxis="x10", yaxis="y10", hoverinfo="skip", showlegend=False))
xs, hs = tree_paths(DEND_C_LINK)
fig.add_trace(go.Scatter(x=xs, y=hs, mode="lines", line=dict(color="#8a8a8a", width=0.8), xaxis="x10", yaxis="y10", hoverinfo="skip", showlegend=False))
xd, yd = box(352, 538.7, 415.7, 777.7)
layout["xaxis11"] = hidden(**xd, anchor="y11", range=[63.7, 0])
layout["yaxis11"] = hidden(**yd, anchor="x11", range=[9.5, -0.5])
xs, hs = tree_paths(DEND_C_LEFT)
fig.add_trace(go.Scatter(x=hs, y=xs, mode="lines", line=dict(color="#a0a0a0", width=1), xaxis="x11", yaxis="y11", hoverinfo="skip", showlegend=False))

# legends of panel C
LEFT_LEGEND = [("Tumor type", None, 454), ("BRCA", "#00aeef", 461), ("OV", "#b5d334", 468.3), ("CESC", "#a84ba0", 475.7), ("UCEC", "#f5b26b", 483), ("USC", "#ed1c24", 490.3),
               ("BRCA PAM50", None, 505), ("LumA", "#22aacc", 512.3), ("LumB", "#2b3a9c", 520), ("HER2", "#a84ba0", 527), ("Dendrogram", None, 541.3)]
RIGHT_LEGEND = [("Basal", "#f5b26b", 454), ("Normal", "#e01040", 461), ("UCEC histology", None, 476), ("Endometrioid", "#1e9be0", 483), ("Serous", "#a050a0", 490.3), ("Mixed", "#f5b26b", 497.7),
                ("CESC pathology", None, 512.3), ("Squamous", "#00b0c0", 520), ("Adeno", "#b050b0", 527)]
for items, xd_, xt in [(LEFT_LEGEND, 692, 697.7), (RIGHT_LEGEND, 748, 753.7)]:
    for name, col, y in items:
        if col:
            swatch(xd_ - 1.3, y - 1.3, 2.6, 2.6, col)
        note(xt, y, name, 5.1 if name == "Dendrogram" else 6.2, color="#333")
for (lines, col), y in zip(DENDRO_LEGEND, DENDRO_LEGEND_Y):
    swatch(689.3, y - 3.2, 6.4, 6.4, col)
    top = y - 3.1 * (len(lines) - 1)
    for i, line in enumerate(lines):
        note(697.7, top + 6.2 * i, line, 5.1, color="#333")

note(39, 13, "A", 20, color="#111")
note(-3, 469, "B", 20, color="#111")
note(328, 469, "C", 20, color="#111")

fig.update_layout(width=W, height=H, margin=dict(l=0, r=0, t=0, b=0), paper_bgcolor="white", plot_bgcolor="rgba(0,0,0,0)",
                  barmode="stack", bargap=0, showlegend=False, annotations=annotations, shapes=shapes, font=dict(family=FONT), **layout)
fig.write_html("out.html", post_script="document.body.style.margin='0';", config=dict(displayModeBar=False))
